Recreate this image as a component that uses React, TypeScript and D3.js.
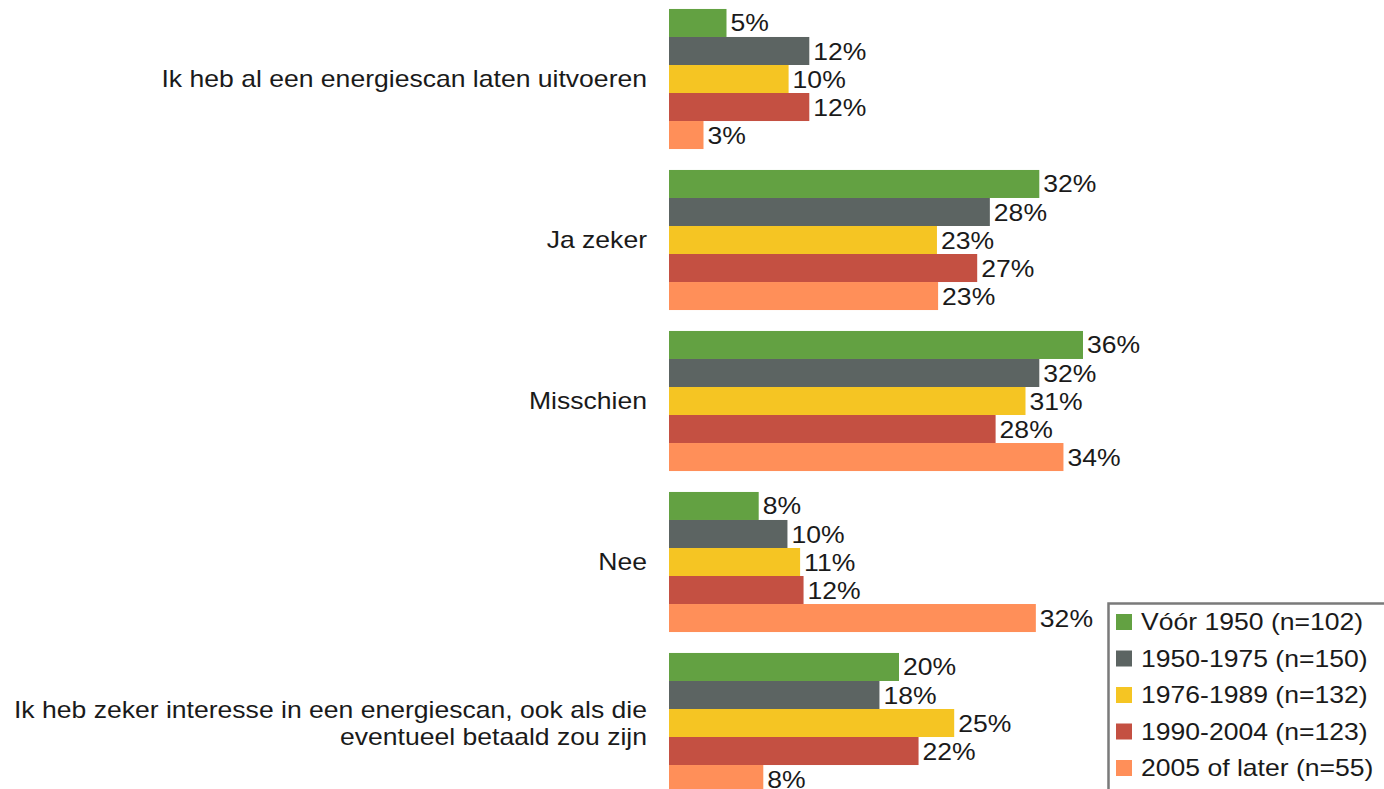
import { useEffect } from 'react';
import * as d3 from 'd3';

// data
const categories = [
  'Ik heb al een energiescan laten uitvoeren',
  'Ja zeker',
  'Misschien',
  'Nee',
  'Ik heb zeker interesse in een energiescan, ook als die\neventueel betaald zou zijn',
];
const series = [
  'Vóór 1950 (n=102)',
  '1950-1975 (n=150)',
  '1976-1989 (n=132)',
  '1990-2004 (n=123)',
  '2005 of later (n=55)',
];
const voor1950 = [5.0, 32.2, 36.0, 7.8, 20.0];
const s1950_1975 = [12.2, 27.9, 32.2, 10.3, 18.3];
const s1976_1989 = [10.4, 23.3, 31.0, 11.4, 24.8];
const s1990_2004 = [12.2, 26.8, 28.4, 11.7, 21.7];
const s2005later = [3.0, 23.4, 34.3, 31.9, 8.2];
const values = [voor1950, s1950_1975, s1976_1989, s1990_2004, s2005later];
const colors = ['#63a142', '#5c6462', '#f5c523', '#c45042', '#ff8f59'];

const W = 1384;
const H = 789;
const FONT = '"Liberation Sans", Arial, sans-serif';
const SX = 1.155; // the reference text is a little wider than plain Arial

export default function App() {
  useEffect(() => {
    document.body.style.margin = '0';
  }, []);

  const x0 = 669;
  const x = d3.scaleLinear().domain([0, 36]).range([x0, x0 + 414]);
  const y0 = d3
    .scaleBand<string>()
    .domain(categories)
    .range([-1.5, 803.5])
    .paddingInner(0.13)
    .paddingOuter(0.065);
  const y1 = d3
    .scaleBand<string>()
    .domain(series)
    .range([0, y0.bandwidth()]);
  const fmt = d3.format('.0f');

  const legendTop = 603.5;
  const legendX = 1108.5;

  return (
    <svg width={W} height={H} style={{ display: 'block' }} fontFamily={FONT}>
      <rect width={W} height={H} fill="#fff" />
      {categories.map((c, ci) => {
        const gy = y0(c)!;
        const lines = c.split('\n');
        const cy = gy + y0.bandwidth() / 2;
        return (
          <g key={c}>
            {lines.map((ln, li) => (
              <text
                key={li}
                transform={`translate(647,${cy + (li - (lines.length - 1) / 2) * 27}) scale(${SX},1)`}
                textAnchor="end"
                dy="0.35em"
                fontSize={23}
                fill="#1a1a1a"
              >
                {ln}
              </text>
            ))}
            {series.map((s, si) => {
              const v = values[si][ci];
              const by = gy + y1(s)!;
              return (
                <g key={s}>
                  <rect
                    x={x0}
                    y={by}
                    width={x(v) - x0}
                    height={y1.bandwidth()}
                    fill={colors[si]}
                  />
                  <text
                    transform={`translate(${x(v) + 4},${by + y1.bandwidth() / 2}) scale(${SX},1)`}
                    dy="0.37em"
                    fontSize={23}
                    fill="#1a1a1a"
                  >
                    {fmt(v)}%
                  </text>
                </g>
              );
            })}
          </g>
        );
      })}
      <g>
        <rect
          x={legendX}
          y={legendTop}
          width={400}
          height={300}
          fill="#fff"
          stroke="#7a7a7a"
          strokeWidth={2.5}
        />
        {series.map((s, si) => {
          const cy = legendTop + 18.5 + si * 36.5;
          return (
            <g key={s}>
              <rect x={1116} y={cy - 8} width={16} height={16} fill={colors[si]} />
              <text
                transform={`translate(1141,${cy}) scale(${SX},1)`}
                dy="0.36em"
                fontSize={23}
                fill="#1a1a1a"
              >
                {s}
              </text>
            </g>
          );
        })}
      </g>
    </svg>
  );
}
